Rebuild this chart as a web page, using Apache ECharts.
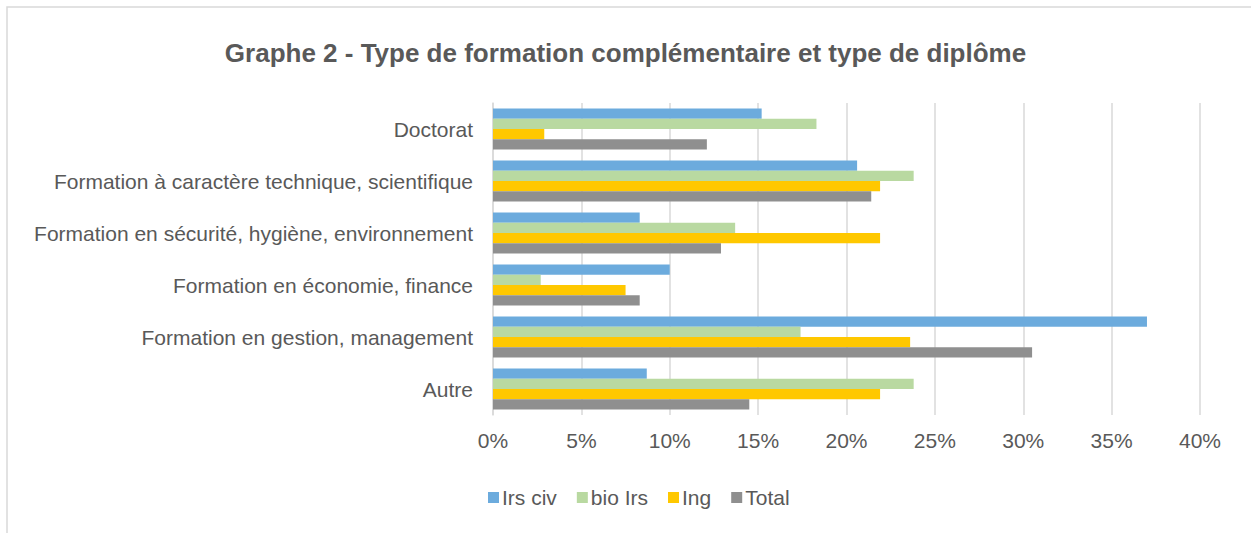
<!DOCTYPE html>
<html>
<head>
<meta charset="utf-8">
<script src="https://cdn.jsdelivr.net/npm/echarts@6/dist/echarts.min.js"></script>
<style>
  html, body { margin: 0; padding: 0; background: #fff; }
  #chart { width: 1251px; height: 533px; }
</style>
</head>
<body>
<div id="chart"></div>
<script>
(function() {
  var categories = [
    'Doctorat',
    'Formation à caractère technique, scientifique',
    'Formation en sécurité, hygiène, environnement',
    'Formation en économie, finance',
    'Formation en gestion, management',
    'Autre'
  ];
  var seriesNames = ['Irs civ', 'bio Irs', 'Ing', 'Total'];
  var irsCiv = [15.2, 20.6, 8.3, 10.0, 37.0, 8.7];
  var bioIrs = [18.3, 23.8, 13.7, 2.7, 17.4, 23.8];
  var ing = [2.9, 21.9, 21.9, 7.5, 23.6, 21.9];
  var total = [12.1, 21.4, 12.9, 8.3, 30.5, 14.5];
  var colors = ['#6cabdd', '#b9d9a1', '#ffc800', '#8f8f8f'];

  var text = '#595959';
  var rule = '#d9d9d9';
  var font = '"Liberation Sans", Arial, sans-serif';

  // --- Graphe 2 ---
  var chart = echarts.init(document.getElementById('chart'), null, { renderer: 'svg' });
  var values = [irsCiv, bioIrs, ing, total];
  var series = [];
  for (var i = 0; i < seriesNames.length; i++) {
    series.push({
      name: seriesNames[i],
      type: 'bar',
      data: values[i],
      itemStyle: { color: colors[i] },
      barGap: '0%',
      barCategoryGap: '21%',
      animation: false
    });
  }

  var option = {
    textStyle: { fontFamily: font },
    title: {
      text: 'Graphe 2 - Type de formation complémentaire et type de diplôme',
      left: 'center',
      top: 35,
      textStyle: { color: text, fontSize: 26, fontWeight: 'bold', fontFamily: font }
    },
    legend: {
      data: seriesNames,
      left: 483,
      top: 482,
      icon: 'rect',
      itemWidth: 11,
      itemHeight: 11,
      itemGap: 20,
      textStyle: { color: text, fontSize: 21, fontFamily: font, padding: [0, 0, 0, -2] }
    },
    grid: {
      left: 493,
      right: 51,
      top: 103,
      bottom: 118,
      containLabel: false
    },
    xAxis: {
      type: 'value',
      min: 0,
      max: 40,
      interval: 5,
      axisLabel: { color: text, fontSize: 21, fontFamily: font, formatter: '{value}%', margin: 15 },
      axisLine: { show: false },
      axisTick: { show: false },
      splitLine: { lineStyle: { color: rule, width: 1.5 } }
    },
    yAxis: {
      type: 'category',
      inverse: true,
      data: categories,
      axisLabel: { color: text, fontSize: 21, fontFamily: font, margin: 20 },
      axisLine: { lineStyle: { color: rule, width: 1.5 } },
      axisTick: { show: false }
    },
    series: series,
    graphic: [
      {
        type: 'rect',
        shape: { x: 7, y: 7, width: 1260, height: 540 },
        style: { fill: 'none', stroke: rule, lineWidth: 1.5 },
        silent: true
      }
    ],
    animation: false
  };
  chart.setOption(option);
  window.addEventListener('resize', function() { chart.resize(); });
})();
</script>
</body>
</html>
